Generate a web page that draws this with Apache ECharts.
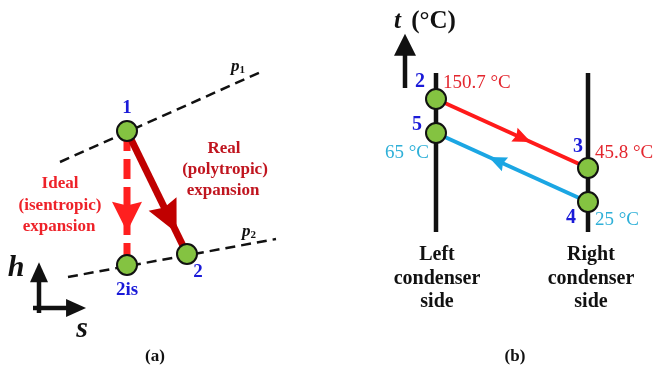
<!DOCTYPE html>
<html><head><meta charset="utf-8">
<script src="https://cdn.jsdelivr.net/npm/echarts@6/dist/echarts.min.js"></script>
<style>html,body{margin:0;padding:0;background:#fff}#c{width:659px;height:369px}</style>
</head><body><div id="c"></div>
<script>
// ---------- Panel (a): h–s expansion diagram (schematic units) ----------
const isobarP1   = [[60,162],[263,71]];
const isobarP2   = [[68,277],[276,239]];
const statesA    = [[127,131],[127,265],[187,254]];        // 1, 2is, 2
const statesAName= ['1','2is','2'];
const idealPath  = [[127,131],[127,265]];                   // 1 -> 2is
const realPath   = [[127,131],[187,254]];                   // 1 -> 2
const hAxisLine  = [[39,313],[39,276]];
const sAxisLine  = [[33,308],[74,308]];
// ---------- Panel (b): condenser temperature diagram ----------
const leftSide   = [[436,73],[436,232]];
const rightSide  = [[588,73],[588,232]];
const hotStream  = [[436,99],[588,168]];                    // 2 -> 3
const coldStream = [[588,202],[436,133]];                   // 4 -> 5
const statesB    = [[436,99],[436,133],[588,168],[588,202]];// 2, 5, 3, 4
const statesBName= ['2','5','3','4'];
const statesBTemp= ['150.7 °C','65 °C','45.8 °C','25 °C'];
const tAxisLine  = [[405,88],[405,52]];

const GREEN='#84c341', BLK='#111';
const HEAD='path://M10,0 L20,24 L10,21 L0,24 Z';
function along(p, f){return [p[0][0]+(p[1][0]-p[0][0])*f, p[0][1]+(p[1][1]-p[0][1])*f];}
function rot(p){const dx=p[1][0]-p[0][0], dy=p[1][1]-p[0][1]; return -90 - Math.atan2(dy,dx)*180/Math.PI;}
function seg(data, color, width, type, z){
  return {type:'line', data:data, showSymbol:false, symbol:'none', z:z||2, silent:true,
    lineStyle:{color:color, width:width, type:type||'solid', cap:'butt'}};
}
function head(path, f, symbol, size, color, z){
  return {type:'scatter', data:[along(path,f)], symbol:symbol, symbolSize:size, symbolRotate:rot(path), z:z||3, silent:true,
    itemStyle:{color:color, opacity:1}};
}
function pts(data){
  return {type:'scatter', data:data, symbol:'circle', symbolSize:20, z:5, silent:true,
    itemStyle:{color:GREEN, borderColor:BLK, borderWidth:2, opacity:1}};
}
const SERIF='"Liberation Serif","Times New Roman",serif';
function txt(x,y,text,fill,size,weight,style,align){
  return {type:'text', z:10, style:{x:x,y:y,text:text,fill:fill,
    font:(style||'normal')+' '+(weight||'bold')+' '+size+'px '+SERIF, align:align||'center', verticalAlign:'middle'}};
}
const chart = echarts.init(document.getElementById('c'));
const graphic = [
  // panel a
  {type:'text', z:10, style:{x:238,y:67,text:'{p|p}{s|1}',align:'center',verticalAlign:'middle',
     rich:{p:{font:'italic bold 17px '+SERIF,fill:BLK},s:{font:'bold 11px '+SERIF,fill:BLK,verticalAlign:'bottom',padding:[6,0,0,0]}}}},
  {type:'text', z:10, style:{x:249,y:232,text:'{p|p}{s|2}',align:'center',verticalAlign:'middle',
     rich:{p:{font:'italic bold 17px '+SERIF,fill:BLK},s:{font:'bold 11px '+SERIF,fill:BLK,verticalAlign:'bottom',padding:[6,0,0,0]}}}},
  txt(127,108,statesAName[0],'#1a1ad8',19),
  txt(127,290,statesAName[1],'#1a1ad8',19),
  txt(198,272,statesAName[2],'#1a1ad8',19),
  txt(60,184,'Ideal','#ee2229',17),
  txt(60,206,'(isentropic)','#ee2229',17),
  txt(59,227,'expansion','#ee2229',17),
  txt(224,149,'Real','#c0151f',17),
  txt(225,170,'(polytropic)','#c0151f',17),
  txt(223,191,'expansion','#c0151f',17),
  txt(16,268,'h',BLK,30,'bold','italic'),
  txt(82,329,'s',BLK,30,'bold','italic'),
  txt(155,357,'(a)',BLK,17),
  // panel b
  {type:'text', z:10, style:{x:425,y:22,text:'{t|t}{c| (°C)}',align:'center',verticalAlign:'middle',
     rich:{t:{font:'italic bold 25px '+SERIF,fill:BLK,padding:[0,4,0,0]},c:{font:'bold 25px '+SERIF,fill:BLK}}}},
  txt(420,82,statesBName[0],'#1a1ad8',20),
  txt(443,83,statesBTemp[0],'#e3262e',19,'normal',null,'left'),
  txt(417,125,statesBName[1],'#1a1ad8',20),
  txt(429,153,statesBTemp[1],'#2fb0d8',19,'normal',null,'right'),
  txt(578,147,statesBName[2],'#1a1ad8',20),
  txt(595,153,statesBTemp[2],'#e3262e',19,'normal',null,'left'),
  txt(571,218,statesBName[3],'#1a1ad8',20),
  txt(595,220,statesBTemp[3],'#2fb0d8',19,'normal',null,'left'),
  txt(437,255,'Left',BLK,20),
  txt(437,279,'condenser',BLK,20),
  txt(437,302,'side',BLK,20),
  txt(591,255,'Right',BLK,20),
  txt(591,279,'condenser',BLK,20),
  txt(591,302,'side',BLK,20),
  txt(515,357,'(b)',BLK,17)
];
chart.setOption({
  animation:false,
  backgroundColor:'#fff',
  grid:{left:0,top:0,right:0,bottom:0},
  xAxis:{type:'value',min:0,max:659,show:false},
  yAxis:{type:'value',min:0,max:369,inverse:true,show:false},
  series:[
    seg(isobarP1,BLK,2.5,[10,6]),
    seg(isobarP2,BLK,2.5,[10,6]),
    seg(idealPath,'#ff1f1f',7,[20,8]),
    seg(realPath,'#c00000',7),
    head(idealPath,0.64,HEAD,[30,30],'#ff1f1f'),
    head(realPath,0.71,HEAD,[31,32],'#c00000'),
    pts(statesA),
    seg(hAxisLine,BLK,4.5),
    seg(sAxisLine,BLK,4.5),
    head(hAxisLine,1.1,'triangle',[18,20],BLK),
    head(sAxisLine,1.05,'triangle',[18,20],BLK),
    seg(leftSide,BLK,4.5),
    seg(rightSide,BLK,4.5),
    seg(hotStream,'#ff1a1a',4),
    seg(coldStream,'#1ba6e3',4),
    head(hotStream,0.57,HEAD,[15,18],'#ff1a1a'),
    head(coldStream,0.60,HEAD,[15,18],'#1ba6e3'),
    pts(statesB),
    seg(tAxisLine,BLK,4.5),
    head(tAxisLine,1.2,'triangle',[22,22],BLK)
  ],
  graphic:graphic
});
</script></body></html>
